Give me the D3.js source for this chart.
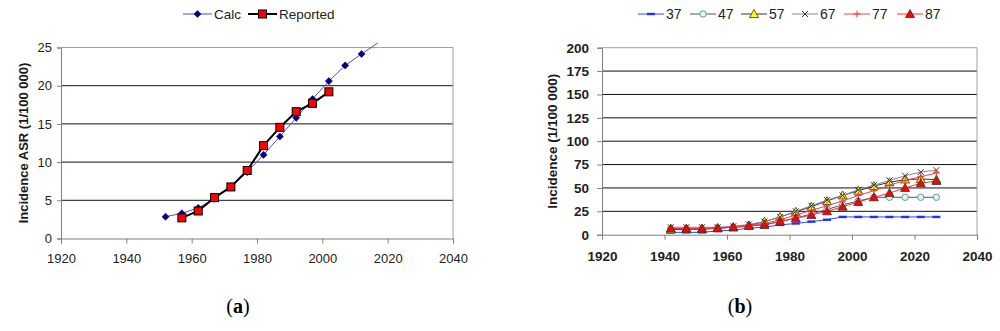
<!DOCTYPE html>
<html>
<head>
<meta charset="utf-8">
<script src="https://cdn.jsdelivr.net/npm/d3@7"></script>
<style>
  body { margin: 0; background: #fff; }
  svg { display: block; font-family: "Liberation Sans", Arial, sans-serif; }
  .tick text { fill: #222; }
</style>
</head>
<body>
<div id="chart"></div>
<script>
/**
 * DATA
 * */
const xTicks = [1920, 1940, 1960, 1980, 2000, 2020, 2040];

// panel (a)
const calcYears = [1952, 1957, 1962, 1967, 1972, 1977, 1982, 1987, 1992, 1997, 2002, 2007, 2012, 2017];
const calcValues = [2.85, 3.3, 4.0, 5.2, 6.8, 8.7, 10.95, 13.35, 15.8, 18.25, 20.6, 22.65, 24.15, 25.6];
const reportedYears = [1957, 1962, 1967, 1972, 1977, 1982, 1987, 1992, 1997, 2002];
const reportedValues = [2.7, 3.6, 5.35, 6.75, 8.9, 12.15, 14.55, 16.6, 17.7, 19.2];
const aTicks = [0, 5, 10, 15, 20, 25];

// panel (b)
const cohortYears = [1942, 1947, 1952, 1957, 1962, 1967, 1972, 1977, 1982, 1987, 1992, 1997, 2002, 2007, 2012, 2017, 2022, 2027];
const s37 = [2.5, 2.5, 2.5, 4, 5, 7, 8, 10.5, 12, 14, 16, 19, 19, 19, 19, 19, 19, 19];
const s47 = [6, 6, 6, 7, 8, 9, 11, 14, 18, 22, 27, 32, 36, 40, 40, 40, 40, 40];
const s57 = [5.5, 6, 6, 7, 8, 10, 14, 19, 24.5, 30, 36, 42, 47, 52, 56, 59, 59.5, 59];
const s67 = [8, 8, 8, 8, 9, 11, 14, 19, 25, 31, 37, 42, 48, 53, 58, 63, 67, 69];
const s77 = [7, 7, 7, 7.5, 8.5, 10, 12, 16, 21, 26, 31, 36, 42, 47, 53, 58, 62, 66];
const s87 = [6.5, 6.5, 6.5, 7, 8, 9.5, 10.5, 14, 17.5, 21, 25, 30, 35, 40, 44.5, 50, 55, 57.5];
const cohortNames = ["37", "47", "57", "67", "77", "87"];
const bTicks = [0, 25, 50, 75, 100, 125, 150, 175, 200];

const width = 1000, height = 331;

const svg = d3.select("#chart").append("svg")
  .attr("width", width)
  .attr("height", height);

/**
 * MARKERS
 * */
function drawMarker(g, type, x, y) {
  if (type === "diamond") {
    g.append("path").attr("d", `M${x},${y - 3.6}L${x + 3.6},${y}L${x},${y + 3.6}L${x - 3.6},${y}Z`)
      .attr("fill", "#000080").attr("stroke", "#000080").attr("stroke-width", 0.5);
  } else if (type === "square") {
    g.append("rect").attr("x", x - 4).attr("y", y - 4).attr("width", 8).attr("height", 8)
      .attr("fill", "#ff0000").attr("stroke", "#000").attr("stroke-width", 1);
  } else if (type === "dash") {
    g.append("rect").attr("x", x - 4).attr("y", y - 1.2).attr("width", 8).attr("height", 2.4)
      .attr("fill", "#1f2fff");
  } else if (type === "circle") {
    g.append("circle").attr("cx", x).attr("cy", y).attr("r", 3.2)
      .attr("fill", "#ccffff").attr("stroke", "#707070").attr("stroke-width", 0.8);
  } else if (type === "tri-yellow" || type === "tri-red") {
    g.append("path").attr("d", `M${x},${y - 4.5}L${x + 4.5},${y + 3.5}L${x - 4.5},${y + 3.5}Z`)
      .attr("fill", type === "tri-yellow" ? "#ffff00" : "#ff0000")
      .attr("stroke", "#333").attr("stroke-width", 0.8);
  } else if (type === "cross") {
    g.append("path").attr("d", `M${x - 3},${y - 3}L${x + 3},${y + 3}M${x - 3},${y + 3}L${x + 3},${y - 3}`)
      .attr("stroke", "#333").attr("stroke-width", 1);
  } else if (type === "plus") {
    g.append("path").attr("d", `M${x - 3.5},${y}L${x + 3.5},${y}M${x},${y - 3.5}L${x},${y + 3.5}`)
      .attr("stroke", "#ff3030").attr("stroke-width", 1);
  }
}

/**
 * PANEL FRAME
 * */
function drawFrame(x, y, ticks, opts) {
  const g = svg.append("g");
  const [x0, x1] = x.range();
  const [y0, y1] = y.range();

  // grid lines
  g.selectAll(".grid")
    .data(ticks.filter(t => t !== ticks[0] && t !== ticks[ticks.length - 1]))
    .join("line")
    .attr("x1", x0).attr("x2", x1)
    .attr("y1", d => y(d)).attr("y2", d => y(d))
    .attr("stroke", "#111").attr("stroke-width", 1);

  // border
  g.append("path")
    .attr("d", `M${x0},${y1}H${x1}V${y0}`)
    .attr("fill", "none").attr("stroke", "#a0a0a0").attr("stroke-width", 1);

  // x axis
  const xAxis = g.append("g")
    .attr("transform", `translate(0,${y0})`)
    .call(d3.axisBottom(x).tickValues(xTicks).tickFormat(d3.format("d")).tickSize(5).tickPadding(opts.xpad));
  xAxis.select(".domain").attr("stroke", "#808080");
  xAxis.selectAll(".tick line").attr("stroke", "#808080");
  xAxis.selectAll("text").attr("font-size", opts.fs).attr("font-weight", opts.fw);

  // y axis
  const yAxis = g.append("g")
    .attr("transform", `translate(${x0},0)`)
    .call(d3.axisLeft(y).tickValues(ticks).tickSize(opts.ytick).tickPadding(opts.ypad));
  yAxis.select(".domain").attr("stroke", "#808080");
  yAxis.selectAll(".tick line").attr("stroke", "#808080");
  yAxis.selectAll("text").attr("font-size", opts.fs).attr("font-weight", opts.fw);

  // y title
  g.append("text")
    .attr("transform", `translate(${opts.titleX},${(y0 + y1) / 2}) rotate(-90)`)
    .attr("text-anchor", "middle")
    .attr("dy", "0.35em")
    .attr("font-size", opts.tfs)
    .attr("font-weight", "bold")
    .attr("fill", "#1a1a1a")
    .text(opts.title);
  return g;
}

function drawSeries(g, x, y, years, values, style) {
  const pts = years.map((yr, i) => ({ yr, v: values[i] }));
  const line = d3.line().x(d => x(d.yr)).y(d => y(d.v));
  g.append("path").datum(pts)
    .attr("d", line)
    .attr("fill", "none")
    .attr("stroke", style.color)
    .attr("stroke-width", style.width);
  const mg = g.append("g");
  pts.filter(d => d.v <= y.domain()[1]).forEach(d => drawMarker(mg, style.marker, x(d.yr), y(d.v)));
}

function drawLegend(items, y, fs) {
  const g = svg.append("g");
  items.forEach(it => {
    const mid = (it.x0 + it.x1) / 2;
    g.append("line").attr("x1", it.x0).attr("x2", it.x1).attr("y1", y).attr("y2", y)
      .attr("stroke", it.color).attr("stroke-width", it.width);
    drawMarker(g, it.marker, mid, y);
    g.append("text").attr("x", it.x1 + 2).attr("y", y).attr("dy", "0.35em")
      .attr("font-size", fs).attr("fill", "#222").text(it.label);
  });
}

/**
 * PANEL (a)
 * */
const xA = d3.scaleLinear().domain([1920, 2040]).range([61, 453]);
const yA = d3.scaleLinear().domain([0, 25]).range([238.5, 47.5]);
const gA = drawFrame(xA, yA, aTicks, { fs: 13, fw: "normal", ytick: 4, ypad: 5, xpad: 10, titleX: 23,
  tfs: 13, title: "Incidence ASR (1/100 000)" });
drawSeries(gA, xA, yA, calcYears, calcValues, { color: "#5050c0", width: 1, marker: "diamond" });
drawSeries(gA, xA, yA, reportedYears, reportedValues, { color: "#000", width: 2, marker: "square" });

drawLegend([
  { label: "Calc", x0: 183, x1: 212, color: "#5050c0", width: 1, marker: "diamond" },
  { label: "Reported", x0: 248, x1: 277, color: "#000", width: 2, marker: "square" }
], 14, 13.5);

/**
 * PANEL (b)
 * */
const xB = d3.scaleLinear().domain([1920, 2040]).range([602, 977]);
const yB = d3.scaleLinear().domain([0, 200]).range([234.7, 47.7]);
const gB = drawFrame(xB, yB, bTicks, { fs: 13.5, fw: "bold", ytick: 5, ypad: 8, xpad: 12, titleX: 552,
  tfs: 13.5, title: "Incidence (1/100 000)" });

const bStyles = [
  { color: "#3344ff", width: 1, marker: "dash" },
  { color: "#555", width: 1, marker: "circle" },
  { color: "#333", width: 1, marker: "tri-yellow" },
  { color: "#8888a8", width: 1, marker: "cross" },
  { color: "#ff4040", width: 1, marker: "plus" },
  { color: "#ff3030", width: 1, marker: "tri-red" }
];
const bSeries = [s37, s47, s57, s67, s77, s87];
bSeries.forEach((vals, i) => drawSeries(gB, xB, yB, cohortYears, vals, bStyles[i]));

const legendX = [638, 690, 741, 792, 844, 897];
drawLegend(cohortNames.map((name, i) => ({
  label: name, x0: legendX[i], x1: legendX[i] + 26, ...bStyles[i]
})), 14, 14);

/**
 * PANEL LABELS
 * */
[["a", 238], ["b", 740]].forEach(([letter, cx]) => {
  const t = svg.append("text")
    .attr("x", cx).attr("y", 313)
    .attr("text-anchor", "middle")
    .attr("font-family", "'Liberation Serif', 'Times New Roman', serif")
    .attr("font-size", 20);
  t.append("tspan").text("(");
  t.append("tspan").attr("font-weight", "bold").text(letter);
  t.append("tspan").text(")");
});
</script>
</body>
</html>
